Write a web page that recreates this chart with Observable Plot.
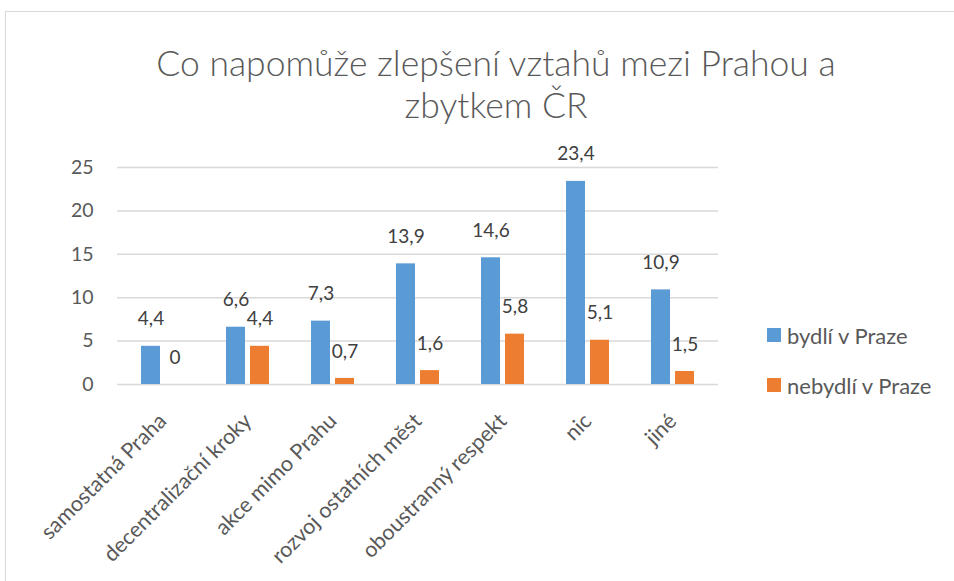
<!DOCTYPE html>
<html>
<head>
<meta charset="utf-8">
<script src="https://cdn.jsdelivr.net/npm/d3@7"></script>
<script src="https://cdn.jsdelivr.net/npm/@observablehq/plot@0.6"></script>
<style>
  html, body { margin: 0; padding: 0; background: #fff; }
  #wrap { position: relative; width: 954px; height: 581px; overflow: hidden; font-family: Lato, "Open Sans", sans-serif; }
  #frame { position: absolute; left: 5px; top: 11px; width: 980px; height: 620px; border: 1px solid #d9d9d9; box-sizing: border-box; }
  #title { position: absolute; left: 0; top: 42px; width: 992px; text-align: center; font-size: 35.5px; font-weight: 300; color: #595959; line-height: 42px; }
  #chart { position: absolute; left: 0; top: 130px; }
  #legend { position: absolute; left: 767px; top: 328px; font-size: 22px; color: #595959; }
  .item { display: flex; align-items: center; height: 14px; margin-bottom: 36px; white-space: nowrap; }
  .sw { width: 14px; height: 14px; margin-right: 6px; flex: none; }
</style>
</head>
<body>
<div id="wrap">
  <div id="frame"></div>
  <div id="title">Co napomůže zlepšení vztahů mezi Prahou a<br>zbytkem ČR</div>
  <div id="chart"></div>
  <div id="legend"></div>
</div>
<script>
const categories = ["samostatná Praha", "decentralizační kroky", "akce mimo Prahu", "rozvoj ostatních měst", "oboustranný respekt", "nic", "jiné"];
const seriesNames = ["bydlí v Praze", "nebydlí v Praze"];
const bydli = [4.4, 6.6, 7.3, 13.9, 14.6, 23.4, 10.9];
const nebydli = [0, 4.4, 0.7, 1.6, 5.8, 5.1, 1.5];
const colors = ["#5B9BD5", "#ED7D31"];
const yTicks = [0, 5, 10, 15, 20, 25];

const fmt = v => String(v).replace(".", ",");
const rows = [];
categories.forEach((c, i) => {
  rows.push({cat: c, series: seriesNames[0], value: bydli[i], side: -1});
  rows.push({cat: c, series: seriesNames[1], value: nebydli[i], side: 1});
});
const blue = rows.filter(d => d.side < 0);
const orange = rows.filter(d => d.side > 0);

const bw = 19.4, off = 12;
const plot = Plot.plot({
  width: 954,
  height: 451,
  marginLeft: 117,
  marginRight: 236,
  marginTop: 37,
  marginBottom: 197,
  style: {fontFamily: "Lato, 'Open Sans', sans-serif", fontSize: "19px", color: "#595959", background: "transparent", overflow: "visible"},
  x: {domain: categories, paddingInner: 0.495, paddingOuter: 0.2475, label: null},
  y: {domain: [0, 25], label: null},
  marks: [
    Plot.ruleY(yTicks, {stroke: "#d9d9d9", strokeWidth: 1.5}),
    Plot.barY(blue, {x: "cat", y: "value", fill: colors[0], insetRight: 43.4 - bw}),
    Plot.barY(orange, {x: "cat", y: "value", fill: colors[1], insetLeft: 43.4 - bw}),
    Plot.text(blue, {x: "cat", y: "value", text: d => fmt(d.value), dx: -off, dy: -27, fill: "#404040", fontSize: 19}),
    Plot.text(orange, {x: "cat", y: "value", text: d => fmt(d.value), dx: off, dy: -27, fill: "#404040", fontSize: 19}),
    Plot.axisY({ticks: yTicks, tickSize: 0, tickPadding: 24, fontSize: 19.5, fill: "#595959"}),
    Plot.axisX({tickSize: 0, tickRotate: -45, tickPadding: 10, fontSize: 21.5, fill: "#595959", dx: 0, dy: 23})
  ]
});
document.getElementById("chart").appendChild(plot);

const legend = document.getElementById("legend");
seriesNames.forEach((s, i) => {
  const item = document.createElement("div");
  item.className = "item";
  item.innerHTML = `<div class="sw" style="background:${colors[i]}"></div><span>${s}</span>`;
  legend.appendChild(item);
});
</script>
</body>
</html>
